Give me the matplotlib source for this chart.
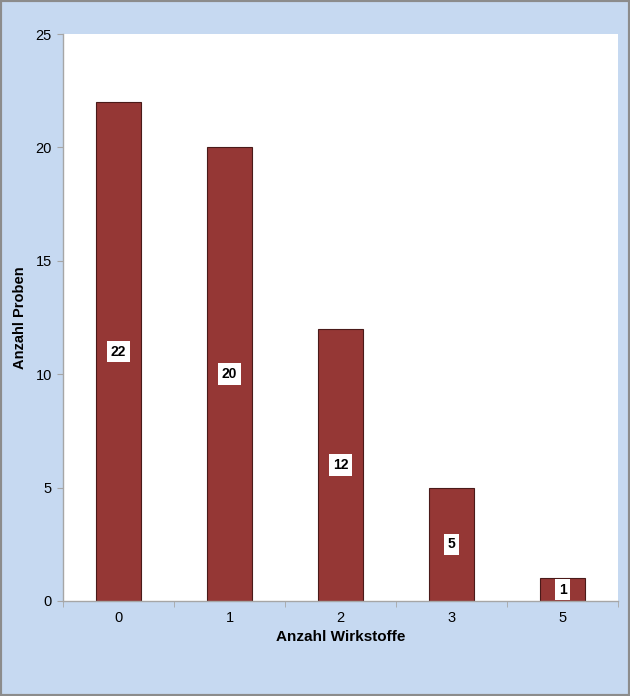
import matplotlib
matplotlib.use("Agg")

import numpy as np
import matplotlib.pyplot as plt
from matplotlib.patches import Rectangle

# data
categories = ["0", "1", "2", "3", "5"]
counts = [22, 20, 12, 5, 1]

BG = "#c6d9f1"
BAR = "#953735"
AXIS = "#a6a6a6"

plt.rcParams["font.family"] = ["Liberation Sans", "DejaVu Sans"]

fig = plt.figure(figsize=(6.3, 6.96), dpi=100, facecolor=BG)
ax = fig.add_axes([63 / 630, 95 / 696, 555 / 630, 567 / 696])
ax.set_facecolor("white")

# outer grey frame
fig.patches.append(Rectangle((0, 0), 1, 1, transform=fig.transFigure, fill=False,
                             ec="#8c8c8c", lw=3, zorder=10))

x = np.arange(len(categories))
ax.bar(x, counts, width=0.4, color=BAR, edgecolor="#4a1a19", lw=0.8, zorder=2)

# value labels in white boxes at mid-height
for xi, v in zip(x, counts):
    ax.text(xi, v / 2, str(v), ha="center", va="center", fontsize=10, fontweight="bold",
            bbox=dict(boxstyle="square,pad=0.27", fc="white", ec="none"), zorder=3)

ax.set_xlim(-0.5, len(categories) - 0.5)
ax.set_ylim(0, 25)
ax.set_yticks([0, 5, 10, 15, 20, 25])
ax.set_xticks(x)
ax.set_xticklabels(categories)
ax.set_xticks(np.arange(-0.5, len(categories)), minor=True)
ax.tick_params(axis="x", which="major", length=0, pad=7, labelsize=10.5)
ax.tick_params(axis="x", which="minor", length=4, color=AXIS, direction="out")
ax.tick_params(axis="y", length=4, color=AXIS, direction="out", pad=4, labelsize=10.5)

for s in ("top", "right"):
    ax.spines[s].set_visible(False)
for s in ("left", "bottom"):
    ax.spines[s].set_color(AXIS)
    ax.spines[s].set_linewidth(1.0)

ax.set_xlabel("Anzahl Wirkstoffe", fontsize=11, fontweight="bold", labelpad=4)
ax.set_ylabel("Anzahl Proben", fontsize=10.5, fontweight="bold", labelpad=6)

fig.savefig("out.png", dpi=100, facecolor=BG)
